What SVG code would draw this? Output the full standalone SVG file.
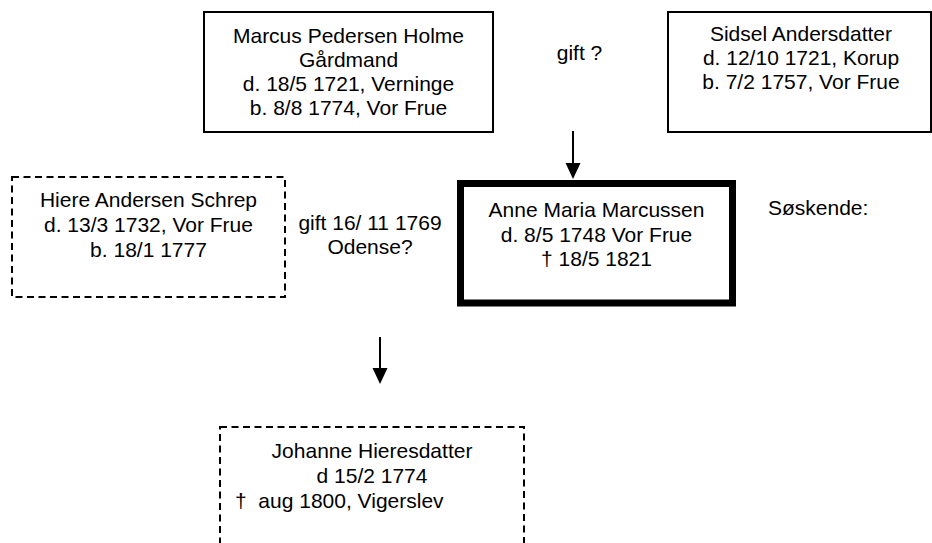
<svg xmlns="http://www.w3.org/2000/svg" width="932" height="543" viewBox="0 0 932 543">
<style>
text{font-family:"Liberation Sans",Arial,sans-serif;font-size:21px;fill:#000}
.c{text-anchor:middle}
.box{fill:#fff;stroke:#000;stroke-width:2}
.dash{fill:none;stroke:#000;stroke-width:2;stroke-dasharray:7 4.5}
.thick{fill:#fff;stroke:#000;stroke-width:7}
.ln{stroke:#000;stroke-width:2}
</style>
<rect width="932" height="543" fill="#fff"/>
<g id="marcus">
<rect class="box" x="204" y="12" width="289" height="120"/>
<text class="c" x="348.5" y="43">Marcus Pedersen Holme</text>
<text class="c" x="348.5" y="67">Gårdmand</text>
<text class="c" x="348.5" y="91">d. 18/5 1721, Verninge</text>
<text class="c" x="348.5" y="115">b. 8/8 1774, Vor Frue</text>
</g>
<g id="sidsel">
<rect class="box" x="668" y="12" width="263" height="120"/>
<text class="c" x="801" y="41">Sidsel Andersdatter</text>
<text class="c" x="801" y="65">d. 12/10 1721, Korup</text>
<text class="c" x="801" y="89">b. 7/2 1757, Vor Frue</text>
</g>
<g id="gift1">
<text class="c" x="579.5" y="60">gift ?</text>
</g>
<g id="hiere">
<rect class="dash" x="12" y="177" width="273" height="120"/>
<text class="c" x="148.5" y="207">Hiere Andersen Schrep</text>
<text class="c" x="148.5" y="232">d. 13/3 1732, Vor Frue</text>
<text class="c" x="148.5" y="257">b. 18/1 1777</text>
</g>
<g id="gift2">
<text class="c" x="370" y="230">gift 16/ 11 1769</text>
<text class="c" x="370" y="254">Odense?</text>
</g>
<g id="anne">
<rect class="thick" x="460.5" y="183.5" width="272" height="119.5"/>
<text class="c" x="596.5" y="217">Anne Maria Marcussen</text>
<text class="c" x="596.5" y="242">d. 8/5 1748 Vor Frue</text>
<text class="c" x="596.5" y="266">† 18/5 1821</text>
</g>
<g id="soskende">
<text x="768" y="215">Søskende:</text>
</g>
<g id="johanne">
<rect class="dash" x="220" y="427" width="304" height="140"/>
<text class="c" x="372" y="458">Johanne Hieresdatter</text>
<text class="c" x="372" y="483">d 15/2 1774</text>
<text x="235" y="508" xml:space="preserve">†  aug 1800, Vigerslev</text>
</g>
<g id="connectors">
<line class="ln" x1="573" y1="131" x2="573" y2="165"/>
<polygon points="565.5,163 580.5,163 573,179"/>
<line class="ln" x1="380" y1="337" x2="380" y2="370"/>
<polygon points="372.5,368 387.5,368 380,384"/>
</g>
</svg>
